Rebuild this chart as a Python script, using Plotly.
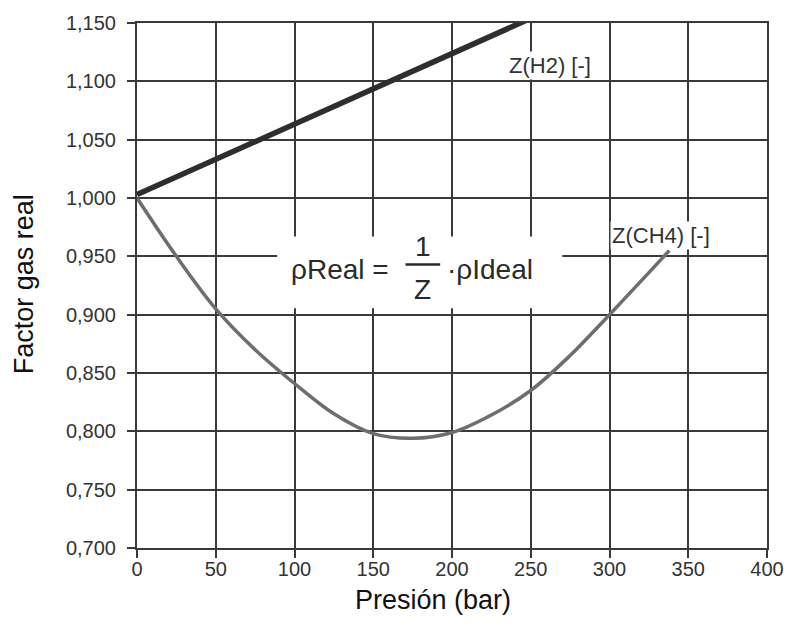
import plotly.graph_objects as go

# Pressure (bar) and compressibility factor Z for hydrogen and methane
p_h2 = [0, 50, 100, 150, 200, 250]
z_h2 = [1.003, 1.033, 1.064, 1.094, 1.124, 1.154]

p_ch4 = [0, 25, 50, 75, 100, 125, 150, 175, 200, 225, 250, 275, 300, 325, 338]
z_ch4 = [1.000, 0.950, 0.905, 0.870, 0.841, 0.815, 0.798, 0.794, 0.799, 0.814,
         0.835, 0.865, 0.900, 0.936, 0.955]

x_ticks = [0, 50, 100, 150, 200, 250, 300, 350, 400]
y_ticks = [0.70, 0.75, 0.80, 0.85, 0.90, 0.95, 1.00, 1.05, 1.10, 1.15]

FONT = "Liberation Sans, Arial, Helvetica, sans-serif"
GRID = "#3a3a3a"
TXT = "#333333"

fig = go.Figure()
fig.add_trace(go.Scatter(x=p_ch4, y=z_ch4, mode="lines",
                         line=dict(color="#6e6e6e", width=3.5, shape="spline",
                                   smoothing=1.0),
                         showlegend=False, hoverinfo="skip"))
fig.add_trace(go.Scatter(x=p_h2, y=z_h2, mode="lines",
                         line=dict(color="#2e2e2e", width=5.5),
                         showlegend=False, hoverinfo="skip"))

axis_common = dict(showgrid=True, gridcolor=GRID, gridwidth=1.6,
                   showline=True, linecolor=GRID, linewidth=2, mirror=True,
                   ticks="outside", ticklen=8, tickwidth=1.6, tickcolor=GRID,
                   tickfont=dict(family=FONT, size=20, color=TXT),
                   zeroline=False, fixedrange=True)

fig.update_xaxes(range=[0, 400], tickmode="array", tickvals=x_ticks,
                 ticklabelstandoff=-6, **axis_common)
fig.update_yaxes(range=[0.70, 1.15], tickmode="array", tickvals=y_ticks,
                 tickformat=".3f", ticklabelstandoff=7, **axis_common)

# White box behind the density formula
fig.add_shape(type="rect", xref="x", yref="y", x0=89, x1=270, y0=0.9055, y1=0.967,
              fillcolor="white", line=dict(width=0), layer="above")
# Fraction bar of 1/Z
fig.add_shape(type="line", xref="x", yref="y", x0=170.5, x1=192.5, y0=0.943, y1=0.943,
              line=dict(color="#2a2a2a", width=2.5), layer="above")

formula_font = dict(family=FONT, size=28, color="#2a2a2a")
annotations = [
    dict(x=129, y=0.9385, text="\u03c1Real =", font=formula_font),
    dict(x=181.5, y=0.9585, text="1", font=formula_font),
    dict(x=181.5, y=0.9215, text="Z", font=formula_font),
    dict(x=224, y=0.9385, text="\u00b7\u03c1Ideal", font=formula_font),
    dict(x=262, y=1.1135, text="Z(H2) [-]", bgcolor="white",
         font=dict(family=FONT, size=22, color=TXT)),
    dict(x=333, y=0.9675, text="Z(CH4) [-]", bgcolor="white",
         font=dict(family=FONT, size=22, color=TXT)),
]
for a in annotations:
    fig.add_annotation(xref="x", yref="y", showarrow=False,
                       xanchor="center", yanchor="middle", **a)

# Axis titles
fig.add_annotation(xref="paper", yref="paper", x=0.470, y=-0.0985,
                   text="Presión (bar)", showarrow=False,
                   xanchor="center", yanchor="middle",
                   font=dict(family=FONT, size=27, color="#111111"))
fig.add_annotation(xref="paper", yref="paper", x=-0.178, y=0.502,
                   text="Factor gas real", showarrow=False, textangle=-90,
                   xanchor="center", yanchor="middle",
                   font=dict(family=FONT, size=27, color="#111111"))

fig.update_layout(width=796, height=625,
                  margin=dict(l=137, r=23, t=20, b=77),
                  paper_bgcolor="white", plot_bgcolor="white",
                  separators=",.", showlegend=False)

fig.write_html("out.html")
